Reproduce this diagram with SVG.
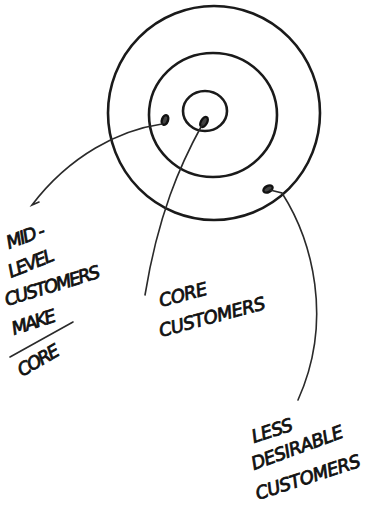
<svg xmlns="http://www.w3.org/2000/svg" width="373" height="505" viewBox="0 0 373 505">
<style>
.ring{fill:none;stroke:#1a1a1a;stroke-width:2.6}
.dot{fill:#444;stroke:#111;stroke-width:2.4}
.conn{fill:none;stroke:#2a2a2a;stroke-width:1.6;stroke-linecap:round}
.lbl{font-family:"DejaVu Sans","Liberation Sans",sans-serif;font-size:18px;font-style:oblique;fill:#111;stroke:#111;stroke-width:0.8;letter-spacing:-0.5px}
#label-mid-level{letter-spacing:-1.8px}
</style>
<rect width="373" height="505" fill="#fff"/>
<g id="outer-ring"><ellipse class="ring" cx="214" cy="113" rx="106" ry="107"/></g>
<g id="middle-ring"><ellipse class="ring" cx="213" cy="115" rx="64" ry="62"/></g>
<g id="inner-ring"><ellipse class="ring" cx="205" cy="111" rx="22" ry="20"/></g>
<g id="mid-level-dot"><ellipse class="dot" cx="165" cy="120" rx="3" ry="5" transform="rotate(20 165 120)"/></g>
<g id="core-dot"><ellipse class="dot" cx="204" cy="122" rx="3" ry="5.5" transform="rotate(30 204 122)"/></g>
<g id="less-dot"><ellipse class="dot" cx="268" cy="189" rx="5" ry="3" transform="rotate(-30 268 189)"/></g>
<g id="connectors">
<path class="conn" d="M162 124 C 120 130, 70 155, 32 205 L 39 202"/>
<path class="conn" d="M202 125 C 180 165, 158 215, 145 295"/>
<path class="conn" d="M270 190 L282 193 C 312 240, 334 320, 298 400"/>
<line class="conn" x1="10" y1="357" x2="73" y2="322" stroke-width="2"/>
</g>
<g id="label-mid-level" class="lbl">
<text transform="translate(9 249) rotate(-20)">MID -</text>
<text transform="translate(11 278) rotate(-22)">LEVEL</text>
<text transform="translate(7 306) rotate(-17)">CUSTOMERS</text>
<text transform="translate(14 335) rotate(-18)">MAKE</text>
<text transform="translate(22 377) rotate(-30)">CORE</text>
</g>
<g id="label-core" class="lbl">
<text transform="translate(161 307) rotate(-15)">CORE</text>
<text transform="translate(161 337) rotate(-15)">CUSTOMERS</text>
</g>
<g id="label-less" class="lbl">
<text transform="translate(254 443) rotate(-18)">LESS</text>
<text transform="translate(254 470) rotate(-20)">DESIRABLE</text>
<text transform="translate(258 500) rotate(-18)">CUSTOMERS</text>
</g>
</svg>
